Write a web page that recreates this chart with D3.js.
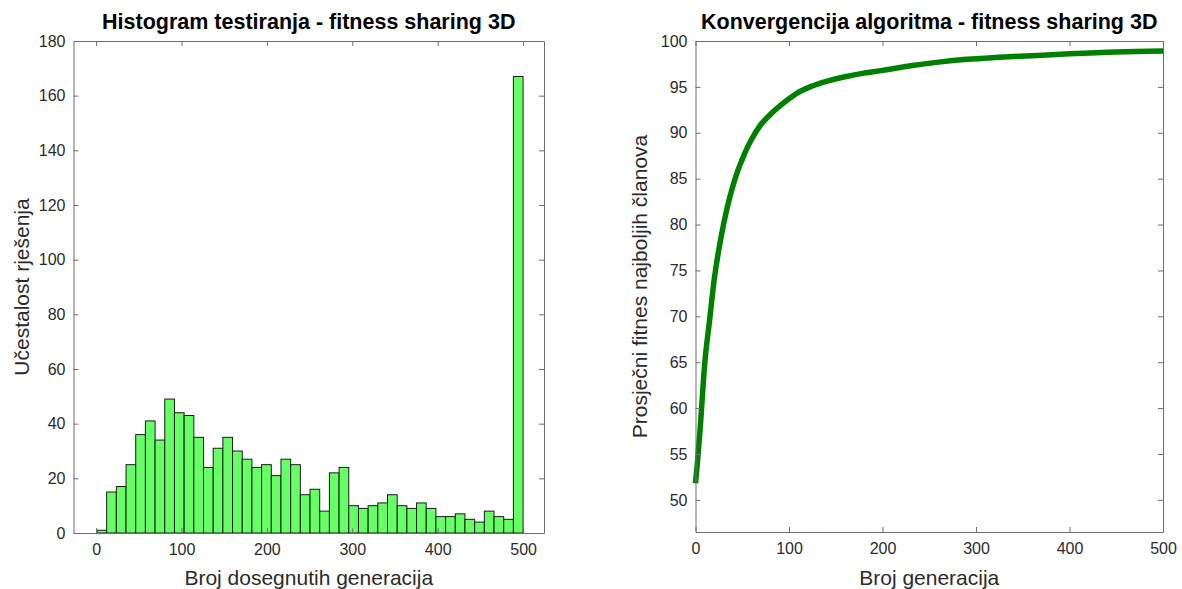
<!DOCTYPE html>
<html>
<head>
<meta charset="utf-8">
<script src="https://cdn.jsdelivr.net/npm/d3@7"></script>
<style>
  html, body { margin: 0; padding: 0; background: #fff; }
  svg { display: block; font-family: "Liberation Sans", Arial, Helvetica, sans-serif; }
</style>
</head>
<body>
<svg id="chart" width="1182" height="589"></svg>
<script>
// ---------- data ----------
// Histogram: 44 equal-width bins spanning generations 1..500
const histRange = [1, 500];
const histCounts = [1, 15, 17, 25, 36, 41, 34, 49, 44, 43, 35, 24, 31, 35, 30, 27, 24, 25, 21, 27,
                    25, 14, 16, 8, 22, 24, 10, 9, 10, 11, 14, 10, 9, 11, 9, 6, 6, 7, 5, 4,
                    8, 6, 5, 167];
const histXTicks = [0, 100, 200, 300, 400, 500];
const histYTicks = [0, 20, 40, 60, 80, 100, 120, 140, 160, 180];

// Convergence: generation vs. average fitness of best members
const convGen = [0, 2, 5, 10, 15, 20, 25, 30, 35, 40, 45, 50, 55, 60, 70, 80, 90, 100, 110, 125,
                 140, 160, 180, 200, 230, 260, 290, 320, 360, 400, 450, 500];
const convFit = [51.8, 54.0, 57.8, 65.0, 69.5, 74.0, 77.3, 80.0, 82.3, 84.2, 85.8, 87.1, 88.3, 89.3, 90.9, 92.0, 92.9, 93.7, 94.4, 95.1,
                 95.6, 96.1, 96.5, 96.8, 97.3, 97.7, 98.0, 98.2, 98.4, 98.6, 98.8, 98.9];
const convXTicks = [0, 100, 200, 300, 400, 500];
const convYTicks = [50, 55, 60, 65, 70, 75, 80, 85, 90, 95, 100];

const titles = ["Histogram testiranja - fitness sharing 3D", "Konvergencija algoritma - fitness sharing 3D"];
const xLabels = ["Broj dosegnutih generacija", "Broj generacija"];
const yLabels = ["Učestalost rješenja", "Prosječni fitnes najboljih članova"];

// ---------- layout ----------
const svg = d3.select("#chart");
const axisColor = "#6e6e6e";
const textColor = "#2b2b2b";

function frame(g, x, y, xTicks, yTicks) {
  const [x0, x1] = x.range();
  const [y0, y1] = y.range();
  const styleAxis = sel => {
    sel.select(".domain").attr("stroke", axisColor).attr("stroke-width", 1);
    sel.selectAll(".tick line").attr("stroke", axisColor);
    sel.selectAll(".tick text").attr("fill", textColor).attr("font-size", 16)
       .attr("font-family", '"Liberation Sans", Arial, sans-serif');
  };
  g.append("g").attr("transform", `translate(0,${y0})`)
    .call(d3.axisBottom(x).tickValues(xTicks).tickSizeInner(-5).tickSizeOuter(0).tickPadding(11))
    .call(styleAxis);
  g.append("g").attr("transform", `translate(0,${y1})`)
    .call(d3.axisTop(x).tickValues(xTicks).tickSizeInner(-5).tickSizeOuter(0).tickFormat(""))
    .call(styleAxis);
  g.append("g").attr("transform", `translate(${x0},0)`)
    .call(d3.axisLeft(y).tickValues(yTicks).tickSizeInner(-5).tickSizeOuter(0).tickPadding(8))
    .call(styleAxis);
  g.append("g").attr("transform", `translate(${x1},0)`)
    .call(d3.axisRight(y).tickValues(yTicks).tickSizeInner(-5).tickSizeOuter(0).tickFormat(""))
    .call(styleAxis);
}

function labels(g, i, x, y, yLabelX) {
  const [x0, x1] = x.range();
  const [y0, y1] = y.range();
  const cx = (x0 + x1) / 2;
  g.append("text").attr("x", cx).attr("y", 29).attr("text-anchor", "middle")
    .attr("font-size", 21.5).attr("font-weight", "bold").attr("fill", "#000").text(titles[i]);
  g.append("text").attr("x", cx).attr("y", 585).attr("text-anchor", "middle")
    .attr("font-size", 21).attr("fill", textColor).text(xLabels[i]);
  g.append("text").attr("transform", `translate(${yLabelX},${(y0 + y1) / 2}) rotate(-90)`)
    .attr("text-anchor", "middle").attr("font-size", 21).attr("fill", textColor).text(yLabels[i]);
}

// ---------- left: histogram ----------
{
  const g = svg.append("g");
  const x = d3.scaleLinear().domain([-26.5, 524.5]).range([73.5, 544]);
  const y = d3.scaleLinear().domain([0, 180]).range([533, 41]);
  const binW = (histRange[1] - histRange[0]) / histCounts.length;
  g.append("g").selectAll("rect").data(histCounts).join("rect")
    .attr("x", (d, i) => x(histRange[0] + i * binW))
    .attr("width", (d, i) => x(histRange[0] + (i + 1) * binW) - x(histRange[0] + i * binW))
    .attr("y", d => y(d))
    .attr("height", d => y(0) - y(d))
    .attr("fill", "#66ff66")
    .attr("stroke", "#1a1a1a")
    .attr("stroke-width", 1);
  frame(g, x, y, histXTicks, histYTicks);
  labels(g, 0, x, y, 29);
}

// ---------- right: convergence ----------
{
  const g = svg.append("g");
  const x = d3.scaleLinear().domain([0, 500]).range([695.5, 1163]);
  const y = d3.scaleLinear().domain([46.5, 100]).range([532, 41]);
  const line = d3.line().x((d, i) => x(convGen[i])).y(d => y(d)).curve(d3.curveMonotoneX);
  g.append("path").datum(convFit).attr("d", line)
    .attr("fill", "none").attr("stroke", "#008000").attr("stroke-width", 5.5)
    .attr("stroke-linejoin", "round").attr("stroke-linecap", "butt");
  frame(g, x, y, convXTicks, convYTicks);
  labels(g, 1, x, y, 647);
}
</script>
</body>
</html>
